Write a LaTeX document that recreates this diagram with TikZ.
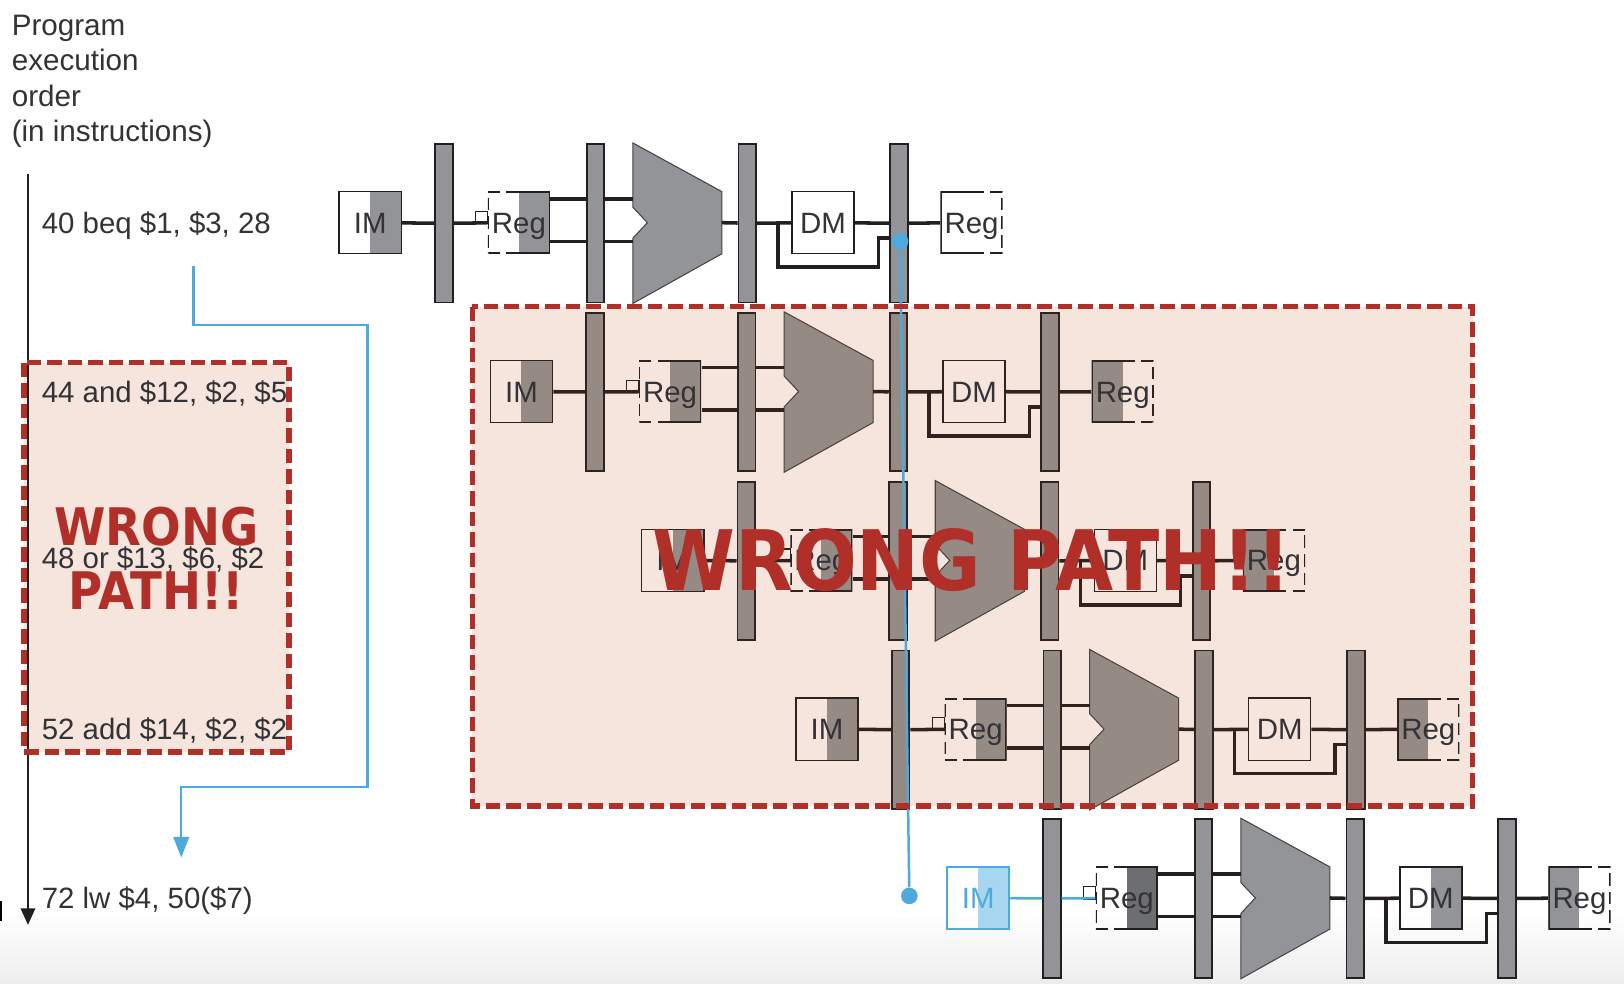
\documentclass[tikz,border=0pt]{standalone}
\usepackage{fontspec}
\setmainfont{Liberation Sans}
\newfontfamily\wrongfont[FakeStretch=0.9]{DejaVu Sans}
\usepackage{tikz}
\usetikzlibrary{calc,arrows.meta}
\usepackage{xcolor}
\definecolor{stagegray}{RGB}{146,148,151}
\definecolor{stagedark}{RGB}{109,110,113}
\definecolor{wronggray}{RGB}{150,138,133}
\definecolor{wronglight}{RGB}{245,229,221}
\definecolor{wrongred}{RGB}{176,48,41}
\definecolor{blackwire}{RGB}{35,31,32}
\definecolor{brownwire}{RGB}{48,34,30}
\definecolor{branchblue}{RGB}{78,170,220}
\definecolor{lightblue}{RGB}{168,213,240}
\definecolor{labelgray}{RGB}{50,50,55}
\colorlet{stagefill}{stagegray}
\colorlet{wirecol}{blackwire}

\tikzset{
  halfshade/.style={path picture={\fill[#1] (path picture bounding box.north) rectangle (path picture bounding box.south east);}},
  rightsolid/.style={path picture={
    \fill[#1] (path picture bounding box.north) rectangle (path picture bounding box.south east);
    \draw[wirecol,line width=1.4pt,dashed,dash pattern=on 6pt off 3pt] (path picture bounding box.north) -| (path picture bounding box.west) |- (path picture bounding box.south);
    \draw[wirecol,line width=1.4pt] (path picture bounding box.north) -| (path picture bounding box.east) |- (path picture bounding box.south);}},
  leftsolid/.style={path picture={
    \fill[#1] (path picture bounding box.north) rectangle (path picture bounding box.south west);
    \draw[wirecol,line width=1.4pt,dashed,dash pattern=on 6pt off 3pt] (path picture bounding box.north) -| (path picture bounding box.east) |- (path picture bounding box.south);
    \draw[wirecol,line width=1.4pt] (path picture bounding box.north) -| (path picture bounding box.west) |- (path picture bounding box.south);}},
  unitbox/.style={rectangle, minimum width=30pt, minimum height=30pt, inner sep=0pt, text=labelgray, text height=10.2pt, text depth=0pt, font=\fontsize{14.2}{16}\selectfont},
  imbox/.style={unitbox, draw=wirecol, line width=0.7pt, halfshade=stagefill},
  regrdbox/.style={unitbox, rightsolid=stagefill},
  dmbox/.style={unitbox, draw=wirecol, line width=0.7pt},
  regwrbox/.style={unitbox, leftsolid=stagefill},
  pipebar/.style={rectangle, draw=wirecol, fill=stagefill, line width=0.9pt, minimum width=8.5pt, minimum height=76.5pt, inner sep=0pt},
  clkbox/.style={rectangle, draw=wirecol, fill=none, line width=0.6pt, minimum size=6pt, inner sep=0pt},
  alushape/.style={draw=wirecol!70!stagefill, fill=stagefill, line width=0.5pt},
  wire/.style={wirecol, line width=1.7pt},
  fetchwire/.style={wire},
  instr/.style={anchor=west, inner sep=0pt, text=labelgray, text height=10.2pt, text depth=0pt, font=\fontsize{14.2}{16}\selectfont},
  branchline/.style={branchblue, line width=1.2pt},
  branchdot/.style={circle, fill=branchblue, minimum size=8pt, inner sep=0pt},
  wrongedge/.style={wrongred, line width=2.6pt, dash pattern=on 7pt off 2.9pt},
  wronglabel/.style={text=wrongred, align=center}
}

% one row of the pipeline: name, left x, centre y
\newcommand{\pipestage}[3]{
  \begin{scope}[shift={(#2,#3)}]
    \node[imbox] (#1im) at (29.5,0) {IM};
    \node[pipebar] (#1b1) at (100.5,0.5) {};
    \node[clkbox] (#1ck) at (137,-5) {};
    \node[regrdbox] (#1rr) at (173,0) {Reg};
    \node[pipebar] (#1b2) at (247,0.5) {};
    \node[pipebar] (#1b3) at (393.5,0.5) {};
    \node[dmbox] (#1dm) at (466.5,0) {DM};
    \node[pipebar] (#1b4) at (540,0.5) {};
    \node[regwrbox] (#1rw) at (610,0) {Reg};
    \draw[alushape] (283,-77) -- (369,-30) -- (369,30) -- (283,78) -- (283,15) -- (297,0) -- (283,-15) -- cycle;
    \coordinate (#1up) at (283,-23);
    \coordinate (#1dn) at (283,18);
    \coordinate (#1out) at (369,0);
    \coordinate (#1fa) at (423,0);
    \coordinate (#1fb) at (520,15);
    \draw[fetchwire] (#1im) -- (#1b1);
    \draw[fetchwire] (#1b1) -- (#1rr);
    \draw[wire] (#1up -| #1rr.east) -- (#1up -| #1b2.west);
    \draw[wire] (#1dn -| #1rr.east) -- (#1dn -| #1b2.west);
    \draw[wire] (#1up -| #1b2.east) -- (#1up);
    \draw[wire] (#1dn -| #1b2.east) -- (#1dn);
    \draw[wire] (#1out) -- (#1b3);
    \draw[wire] (#1b3) -- (#1dm);
    \draw[wire] (#1dm) -- (#1b4);
    \draw[wire] (#1b4) -- (#1rw);
    \draw[wire] (#1fa) -- ++(0,43) -| (#1fb) -- (#1fb -| #1b4.west);
  \end{scope}
}

\begin{document}
\begin{tikzpicture}[x=0.5pt,y=-0.5pt]
  \useasboundingbox (0,0) rectangle (1568,950);
  \shade[top color=white, bottom color=black!7] (0,880) rectangle (1568,950);
  \fill[black] (0,870) rectangle (2,889);

  % Wrong path panels
  \fill[wronglight] (23,350) rectangle (279,726);
  \fill[wronglight] (456,296) rectangle (1422,778);

  % Left column
  \node[anchor=north west, inner sep=0pt, text=labelgray, align=left, font=\fontsize{14.3}{17.1}\selectfont] (order) at (11,14) {Program\\execution\\order\\(in instructions)};
  \coordinate (axistop) at (27,168);
  \coordinate (axisend) at (27,893);
  \draw[blackwire, line width=0.8pt, -{Triangle[width=7pt,length=8pt]}] (axistop) -- (axisend);
  \node[instr] (i40) at (40,215) {40 beq \$1, \$3, 28};
  \node[instr] (i44) at (40,378) {44 and \$12, \$2, \$5};
  \node[instr] (i48) at (40,539) {48 or \$13, \$6, \$2};
  \node[instr] (i52) at (40,704) {52 add \$14, \$2, \$2};
  \node[instr] (i72) at (40,867) {72 lw \$4, 50(\$7)};

  % Branch arrow
  \coordinate (brstart) at (187,257);
  \coordinate (brend) at (175,828);
  \draw[branchline, -{Triangle[width=7.5pt,length=10pt]}] (brstart) |- (355,314) |- (175,760) -- (brend);

  % Rows
  \begin{scope}[regwrbox/.style={unitbox, leftsolid=white}]
    \pipestage{ra}{328}{215}
  \end{scope}
  \begin{scope}[imbox/.style={unitbox, draw=branchblue, line width=0.9pt, text=branchblue, halfshade=lightblue},
                regrdbox/.style={unitbox, rightsolid=stagedark},
                dmbox/.style={unitbox, draw=wirecol, line width=0.7pt, halfshade=stagefill},
                fetchwire/.style={branchline}]
    \pipestage{re}{915}{867}
  \end{scope}
  \colorlet{stagefill}{wronggray}
  \colorlet{wirecol}{brownwire}
  \pipestage{rb}{474}{378}
  \pipestage{rc}{620}{541}
  \pipestage{rd}{769}{704}

  % Branch target line
  \node[branchdot] (dota) at (869,233) {};
  \node[branchdot] (dotb) at (878,865) {};
  \draw[branchline] (dota) -- (dotb);

  % Wrong path borders and labels
  \draw[wrongedge] (23,350) rectangle (279,726);
  \draw[wrongedge] (456,296) rectangle (1422,778);
  \node[wronglabel, font=\wrongfont\bfseries\fontsize{25}{30.5}\selectfont] (wrongl) at (151,539) {WRONG\\PATH!!};
  \node[wronglabel, font=\wrongfont\bfseries\fontsize{40.3}{48}\selectfont] (wrongr) at (938,541) {WRONG PATH!!};
\end{tikzpicture}
\end{document}
